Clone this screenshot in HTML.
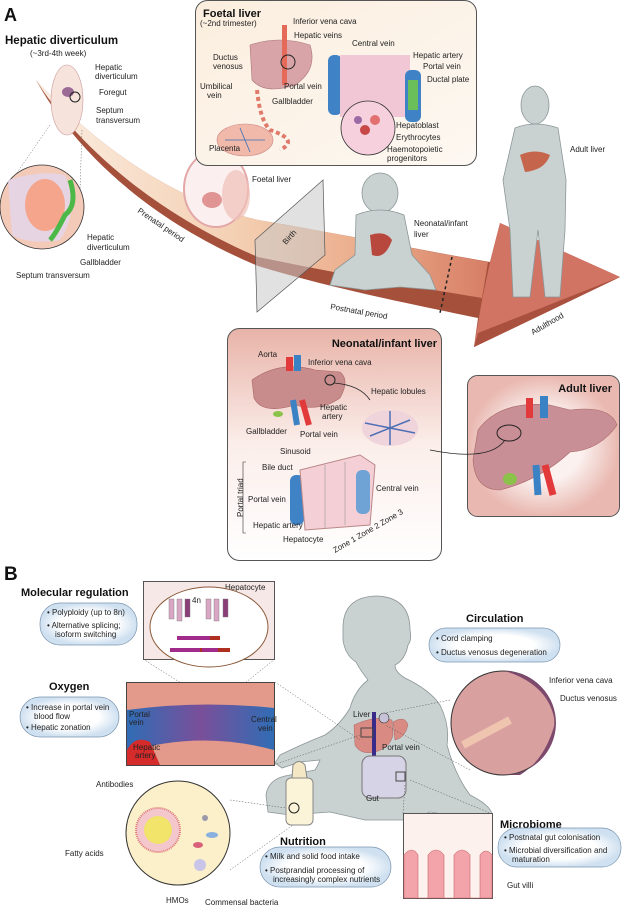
<!DOCTYPE html>
<html><head><meta charset="utf-8"><style>
body{margin:0;background:#fff}
svg{display:block;font-family:"Liberation Sans",sans-serif}
.t{font-size:8px;fill:#222}
.b{font-weight:bold;fill:#111}
</style></head><body>
<svg width="622" height="908" viewBox="0 0 622 908" xmlns="http://www.w3.org/2000/svg">
<defs>
<linearGradient id="arr" x1="0" y1="0" x2="1" y2="0">
<stop offset="0" stop-color="#fbeee2"/><stop offset="0.45" stop-color="#f4cfb2"/><stop offset="0.75" stop-color="#eaa987"/><stop offset="1" stop-color="#d77e66"/></linearGradient>
<linearGradient id="nb" x1="0" y1="0" x2="0" y2="1"><stop offset="0" stop-color="#e8b3a8"/><stop offset="0.5" stop-color="#fbeeea"/><stop offset="1" stop-color="#fff"/></linearGradient>
<radialGradient id="ab"><stop offset="0.5" stop-color="#fbf1ef"/><stop offset="1" stop-color="#e9b8b0"/></radialGradient>
<linearGradient id="fb" x1="0" y1="0" x2="1" y2="1"><stop offset="0" stop-color="#fbeede"/><stop offset="1" stop-color="#fdf8f2"/></linearGradient>
<radialGradient id="pill"><stop offset="0.6" stop-color="#fff"/><stop offset="1" stop-color="#cfe0f0"/></radialGradient>
<linearGradient id="ves" x1="0" y1="0" x2="1" y2="0"><stop offset="0" stop-color="#2f6db5"/><stop offset="0.5" stop-color="#7a4f9a"/><stop offset="1" stop-color="#2f6db5"/></linearGradient>
</defs>

<!-- big arrow -->
<path d="M36,80 C80,160 160,225 258,266 C330,288 420,306 478,318 L474,347 L620,277 L500,223 L490,262 C420,250 330,232 258,220 C170,200 90,140 36,80 Z" fill="#a5503b"/>
<path d="M36,80 C80,150 160,215 258,257 C330,272 420,288 482,298 L488,262 C420,250 330,232 258,220 C170,200 90,140 36,80 Z" fill="url(#arr)"/>
<path d="M482,300 L474,347 L620,277 L500,223 L490,262 Z" fill="#d27464"/>
<path d="M474,347 L620,277 L612,280 L478,333 Z" fill="#a9503f"/>
<path d="M452,257 L440,313" stroke="#222" stroke-width="1.5" stroke-dasharray="3,3"/>
<text class="t" font-size="11" transform="translate(137,212) rotate(34)">Prenatal period</text>
<text class="t" font-size="11" transform="translate(330,309) rotate(10)">Postnatal period</text>
<text class="t" font-size="10" transform="translate(533,335) rotate(-30)">Adulthood</text>
<!-- birth plane -->
<path d="M255,240 L323,180 L325,255 L257,312 Z" fill="#c8c8c8" fill-opacity="0.55" stroke="#555" stroke-width="0.7"/>
<text class="t" font-size="9" transform="translate(286,245) rotate(-48)">Birth</text>

<!-- A label -->
<text x="4" y="21" font-size="18" class="b">A</text>
<text x="5" y="44" font-size="11.5" class="b">Hepatic diverticulum</text>
<text x="30" y="56" class="t">(~3rd-4th week)</text>
<!-- embryo -->
<ellipse cx="67" cy="100" rx="16" ry="35" fill="#f6e4dc" stroke="#c99" stroke-width="0.6"/>
<ellipse cx="68" cy="92" rx="6" ry="5" fill="#9b6a95"/>
<circle cx="75" cy="97" r="5" fill="none" stroke="#222"/>
<text class="t" x="95" y="70">Hepatic</text><text class="t" x="95" y="79">diverticulum</text>
<text class="t" x="99" y="95">Foregut</text>
<text class="t" x="96" y="113">Septum</text><text class="t" x="96" y="123">transversum</text>
<path d="M50,125 L5,190 M82,130 L80,190" stroke="#666" stroke-width="0.5" stroke-dasharray="1.5,1.5"/>
<circle cx="42" cy="207" r="42" fill="#f3c9b8" stroke="#333" stroke-width="0.8"/>
<path d="M8,180 Q40,170 65,175 Q80,210 60,240 Q30,245 12,235 Z" fill="#e6d5e8" opacity="0.9"/>
<ellipse cx="45" cy="205" rx="20" ry="26" fill="#f4a58c"/>
<path d="M70,180 Q78,205 65,215 Q55,235 50,240" fill="none" stroke="#4cb848" stroke-width="5"/>
<text class="t" x="87" y="240">Hepatic</text><text class="t" x="87" y="250">diverticulum</text>
<text class="t" x="80" y="265">Gallbladder</text>
<text class="t" x="16" y="278">Septum transversum</text>

<!-- foetus -->
<ellipse cx="216" cy="189" rx="32" ry="38" fill="#fbefef" stroke="#e3a7a7" stroke-width="2"/>
<ellipse cx="236" cy="195" rx="14" ry="25" fill="#f0c0b8" opacity="0.7"/>
<ellipse cx="212" cy="200" rx="10" ry="8" fill="#d56d6d" opacity="0.7"/>
<text class="t" x="252" y="182">Foetal liver</text>

<!-- baby A -->
<g fill="#c9d1d1" stroke="#8c9696" stroke-width="0.8">
<ellipse cx="380" cy="193" rx="18" ry="20"/>
<path d="M356,215 Q380,205 404,215 L412,255 L430,275 L436,290 L400,287 L365,290 L330,285 L335,270 L355,255 Z"/>
</g>
<path d="M370,235 Q385,230 392,240 Q385,260 372,255 Z" fill="#b8473d"/>
<text class="t" x="414" y="226">Neonatal/infant</text><text class="t" x="414" y="237">liver</text>

<!-- adult -->
<g fill="#c9d1d1" stroke="#8c9696" stroke-width="0.8">
<ellipse cx="535" cy="105" rx="14" ry="19"/>
<path d="M515,128 Q535,120 558,128 L566,180 L565,230 L560,297 L545,297 L538,230 L530,297 L513,297 L510,230 L503,180 Z"/>
</g>
<path d="M520,155 Q535,148 550,155 Q545,170 525,172 Z" fill="#c4654c"/>
<text class="t" x="570" y="152">Adult liver</text>

<!-- foetal box -->
<rect x="195.5" y="0.5" width="281" height="165" rx="12" fill="url(#fb)" stroke="#555"/>
<text x="203" y="17" font-size="11" class="b">Foetal liver</text>
<text class="t" x="200" y="26">(~2nd trimester)</text>
<path d="M250,45 Q280,35 310,45 Q318,70 295,85 Q265,95 252,80 Z" fill="#d9a4a8" stroke="#a77" stroke-width="0.6"/>
<rect x="282" y="25" width="5" height="60" fill="#e56a5a"/>
<circle cx="288" cy="62" r="7" fill="none" stroke="#222"/>
<path d="M257,90 Q260,120 270,130 Q300,140 280,150" fill="none" stroke="#e07a6a" stroke-width="4" stroke-dasharray="4,3"/>
<ellipse cx="245" cy="140" rx="28" ry="16" fill="#f0b9a9" stroke="#c88" stroke-width="0.6"/>
<path d="M225,140 L265,140 M240,128 L250,152" stroke="#3a6fb8" stroke-width="0.8"/>
<rect x="328" y="55" width="14" height="60" rx="6" fill="#3f83c6"/>
<rect x="340" y="55" width="70" height="62" fill="#f2c7d5"/>
<rect x="405" y="70" width="16" height="52" rx="6" fill="#3f83c6"/>
<rect x="408" y="80" width="10" height="30" fill="#6bbf5a"/>
<circle cx="368" cy="128" r="27" fill="#f6d0dc" stroke="#333" stroke-width="0.8"/>
<circle cx="365" cy="130" r="5" fill="#c84848"/><circle cx="375" cy="120" r="5" fill="#e27070"/><circle cx="358" cy="120" r="4" fill="#9b6aa5"/>
<text class="t" x="293" y="24">Inferior vena cava</text>
<text class="t" x="294" y="38">Hepatic veins</text>
<text class="t" x="352" y="46">Central vein</text>
<text class="t" x="213" y="60">Ductus</text><text class="t" x="213" y="69">venosus</text>
<text class="t" x="200" y="89">Umbilical</text><text class="t" x="207" y="98">vein</text>
<text class="t" x="284" y="89">Portal vein</text>
<text class="t" x="272" y="104">Gallbladder</text>
<text class="t" x="209" y="151">Placenta</text>
<text class="t" x="413" y="58">Hepatic artery</text>
<text class="t" x="423" y="69">Portal vein</text>
<text class="t" x="427" y="82">Ductal plate</text>
<text class="t" x="396" y="128">Hepatoblast</text>
<text class="t" x="396" y="140">Erythrocytes</text>
<text class="t" x="387" y="152">Haemotopoietic</text><text class="t" x="387" y="161">progenitors</text>

<!-- neonatal box -->
<rect x="227.5" y="328.5" width="214" height="232" rx="12" fill="url(#nb)" stroke="#555"/>
<text x="437" y="347" font-size="11" class="b" text-anchor="end">Neonatal/infant liver</text>
<path d="M252,380 Q280,360 315,370 L340,372 Q350,380 340,398 Q320,412 295,405 Q262,415 254,398 Z" fill="#c98c8c" stroke="#a66" stroke-width="0.6"/>
<rect x="286" y="357" width="7" height="14" fill="#e23a3a"/><rect x="294" y="355" width="7" height="16" fill="#3b82c4"/>
<path d="M293,400 L297,425" stroke="#3b82c4" stroke-width="6"/><path d="M302,400 L309,425" stroke="#e23a3a" stroke-width="6"/>
<ellipse cx="278" cy="414" rx="5" ry="3" fill="#8bc34a"/>
<circle cx="330" cy="380" r="5" fill="none" stroke="#222"/>
<path d="M334,383 Q360,385 370,400" fill="none" stroke="#222" stroke-width="0.8"/>
<g transform="translate(390,428)"><ellipse rx="28" ry="18" fill="#f0d4dc"/><path d="M-25,-5 L25,5 M-20,8 L20,-8 M0,-17 L0,17" stroke="#4f6fb5" stroke-width="1.5"/></g>
<rect x="290" y="475" width="14" height="50" rx="6" fill="#3f83c6"/>
<path d="M300,470 L360,455 L375,465 L370,525 L305,530 Z" fill="#f4cfd6" stroke="#b88"/>
<rect x="356" y="470" width="14" height="44" rx="6" fill="#6fa3d6"/>
<path d="M325,465 L325,528 M345,462 L345,525" stroke="#888" stroke-width="0.5"/>
<text class="t" x="258" y="357">Aorta</text>
<text class="t" x="308" y="365">Inferior vena cava</text>
<text class="t" x="371" y="394">Hepatic lobules</text>
<text class="t" x="320" y="410">Hepatic</text><text class="t" x="322" y="419">artery</text>
<text class="t" x="246" y="434">Gallbladder</text>
<text class="t" x="300" y="437">Portal vein</text>
<text class="t" x="280" y="454">Sinusoid</text>
<text class="t" x="262" y="470">Bile duct</text>
<text class="t" x="248" y="502">Portal vein</text>
<text class="t" x="376" y="491">Central vein</text>
<text class="t" x="253" y="528">Hepatic artery</text>
<text class="t" x="283" y="542">Hepatocyte</text>
<text class="t" transform="translate(243,517) rotate(-90)">Portal triad</text>
<path d="M246,462 L243,462 L243,533 L246,533" fill="none" stroke="#333" stroke-width="0.6"/>
<text class="t" font-size="7" transform="translate(335,553) rotate(-30)">Zone 1 Zone 2 Zone 3</text>

<!-- adult box -->
<rect x="467.5" y="375.5" width="152" height="141" rx="10" fill="url(#ab)" stroke="#555"/>
<text x="612" y="392" font-size="11" class="b" text-anchor="end">Adult liver</text>
<path d="M478,430 Q500,400 550,405 L570,410 Q610,405 617,425 Q600,450 570,452 Q540,480 500,490 Q475,490 473,460 Z" fill="#c98f96" stroke="#a66" stroke-width="0.6"/>
<rect x="526" y="398" width="7" height="20" fill="#e23a3a"/><rect x="540" y="396" width="8" height="22" fill="#3b82c4"/>
<path d="M536,465 L538,495" stroke="#3b82c4" stroke-width="7"/><path d="M545,465 L553,495" stroke="#e23a3a" stroke-width="7"/>
<ellipse cx="510" cy="479" rx="7" ry="6" fill="#8bc34a"/>
<ellipse cx="509" cy="433" rx="12" ry="8" fill="none" stroke="#222"/>
<path d="M505,440 Q490,462 430,450" fill="none" stroke="#222" stroke-width="0.8"/>

<!-- B -->
<text x="4" y="580" font-size="19" class="b">B</text>
<!-- baby B -->
<g fill="#c9d1d1" stroke="#8c9696" stroke-width="0.8">
<path d="M343,628 Q343,597 376,596 Q410,597 410,630 Q412,640 408,645 Q405,660 395,665 Q395,672 405,678 Q430,690 440,705 Q450,725 447,745 Q455,775 470,795 Q490,805 492,814 L480,820 L430,812 L410,820 L365,820 L330,812 L290,815 L268,812 L266,795 Q268,780 285,776 L315,770 Q318,765 320,760 L300,762 L282,768 L275,763 L280,755 Q300,745 325,735 Q340,725 350,708 Q355,690 368,680 Q360,670 356,662 Q345,655 343,640 Z"/>
</g>
<path d="M354,725 Q375,715 392,720 L393,735 Q390,748 375,752 Q360,755 355,745 Z" fill="#d98a82" stroke="#a66" stroke-width="0.5"/>
<path d="M393,722 Q405,715 408,725 Q405,738 395,740 Z" fill="#d98a82" stroke="#a66" stroke-width="0.5"/>
<rect x="372" y="712" width="4" height="46" fill="#3a2b8a"/>
<circle cx="384" cy="718" r="5" fill="#c8c2d8" stroke="#333" stroke-width="0.6"/>
<rect x="361" y="728" width="12" height="9" fill="none" stroke="#444"/>
<rect x="362" y="756" width="44" height="42" rx="8" fill="#d7d3e6" stroke="#777"/>
<rect x="396" y="772" width="9" height="9" fill="none" stroke="#444"/>
<text class="t" x="353" y="717">Liver</text>
<text class="t" x="382" y="750">Portal vein</text>
<text class="t" x="366" y="801">Gut</text>
<!-- dotted connectors -->
<g stroke="#555" stroke-width="0.5" stroke-dasharray="1.5,1.5" fill="none">
<path d="M143,659 L200,695 M275,659 L230,695 M275,682 L360,740 M274,765 L360,735 M450,700 L385,713 M470,770 L385,725 M230,800 L300,810 M230,870 L300,820 M405,785 L403,813 M410,780 L490,813"/>
</g>
<!-- mol regulation -->
<text x="21" y="596" font-size="11" class="b">Molecular regulation</text>
<rect x="40" y="603" width="97" height="42" rx="20" fill="url(#pill)" stroke="#7a95b0" stroke-width="0.7"/>
<text class="t" x="47" y="615">• Polyploidy (up to 8n)</text>
<text class="t" x="47" y="628">• Alternative splicing;</text>
<text class="t" x="55" y="637">isoform switching</text>
<rect x="143.5" y="581.5" width="131" height="78" fill="#f6e8e6" stroke="#555"/>
<text class="t" x="225" y="590">Hepatocyte</text>
<ellipse cx="209" cy="627" rx="59" ry="40" fill="#fff" stroke="#8a5a3a"/>
<text class="t" x="192" y="603">4n</text>
<g fill="#d9a6c4" stroke="#777" stroke-width="0.4"><rect x="169" y="599" width="5" height="20"/><rect x="177" y="599" width="5" height="22"/><rect x="185" y="599" width="5" height="18" fill="#8a3f78"/><rect x="206" y="599" width="5" height="20"/><rect x="214" y="599" width="5" height="22"/><rect x="223" y="599" width="5" height="18" fill="#8a3f78"/></g>
<rect x="177" y="636" width="43" height="4" fill="#a02b8a"/><rect x="210" y="636" width="10" height="4" fill="#b03020"/>
<rect x="170" y="648" width="43" height="4" fill="#a02b8a"/><rect x="200" y="648" width="14" height="4" fill="#b03020"/>
<rect x="202" y="648" width="28" height="4" fill="#a02b8a"/><rect x="218" y="648" width="12" height="4" fill="#b03020"/>
<!-- circulation -->
<text x="466" y="622" font-size="11" class="b">Circulation</text>
<rect x="429" y="628" width="131" height="34" rx="17" fill="url(#pill)" stroke="#7a95b0" stroke-width="0.7"/>
<text class="t" x="436" y="641">• Cord clamping</text>
<text class="t" x="436" y="655">• Ductus venosus degeneration</text>
<!-- oxygen -->
<text x="49" y="690" font-size="11" class="b">Oxygen</text>
<rect x="20" y="697" width="99" height="40" rx="20" fill="url(#pill)" stroke="#7a95b0" stroke-width="0.7"/>
<text class="t" x="26" y="710">• Increase in portal vein</text>
<text class="t" x="34" y="719">blood flow</text>
<text class="t" x="26" y="730">• Hepatic zonation</text>
<rect x="126.5" y="682.5" width="148" height="83" fill="url(#ves)" stroke="#444"/>
<path d="M127,683 L274,683 L274,708 Q200,700 127,710 Z" fill="#e39a8a"/>
<path d="M127,752 Q200,730 274,750 L274,765 L127,765 Z" fill="#e39a8a"/>
<path d="M127,750 Q135,735 150,742 L160,765 L127,765 Z" fill="#d62b2b"/>
<text class="t" x="129" y="717" fill="#223">Portal</text><text class="t" x="129" y="725">vein</text>
<text class="t" x="251" y="722">Central</text><text class="t" x="258" y="731">vein</text>
<text class="t" x="133" y="750" fill="#fff">Hepatic</text><text class="t" x="135" y="758" fill="#fff">artery</text>
<!-- right circle -->
<circle cx="503" cy="723" r="52" fill="#d9a0a0" stroke="#333"/>
<path d="M505,671 A52,52 0 0 1 503,775 L520,775 Q545,760 555,723 Q550,685 505,671 Z" fill="#7d4a6e"/>
<path d="M463,745 L510,720" stroke="#f0c5b0" stroke-width="8"/>
<text class="t" x="549" y="683">Inferior vena cava</text>
<text class="t" x="560" y="701">Ductus venosus</text>
<!-- bottle -->
<rect x="286" y="778" width="27" height="47" rx="5" fill="#fbf4d8" stroke="#888"/>
<path d="M292,778 L293,765 Q299,758 305,765 L307,778 Z" fill="#f3e7c4" stroke="#888"/>
<circle cx="294" cy="808" r="5" fill="none" stroke="#222"/>
<!-- nutrition circle -->
<circle cx="178" cy="833" r="52" fill="#fbf0c9" stroke="#333"/>
<circle cx="158" cy="830" r="22" fill="#f4c7cc" stroke="#d77" stroke-width="2" stroke-dasharray="1,1"/>
<circle cx="158" cy="830" r="14" fill="#f2e36a"/>
<circle cx="205" cy="818" r="3" fill="#99a"/><ellipse cx="212" cy="835" rx="6" ry="3" fill="#8ab0e0"/><ellipse cx="198" cy="845" rx="5" ry="3" fill="#d9607a"/><circle cx="200" cy="865" r="6" fill="#c8c5e8"/>
<text class="t" x="96" y="787">Antibodies</text>
<text class="t" x="65" y="856">Fatty acids</text>
<text class="t" x="166" y="903">HMOs</text>
<text class="t" x="205" y="905">Commensal bacteria</text>
<!-- nutrition -->
<text x="280" y="845" font-size="11" class="b">Nutrition</text>
<rect x="260" y="847" width="131" height="40" rx="20" fill="url(#pill)" stroke="#7a95b0" stroke-width="0.7"/>
<text class="t" x="265" y="859">• Milk and solid food intake</text>
<text class="t" x="265" y="873">• Postprandial processing of</text>
<text class="t" x="273" y="882">increasingly complex nutrients</text>
<!-- microbiome -->
<text x="500" y="828" font-size="11" class="b">Microbiome</text>
<rect x="498" y="828" width="123" height="39" rx="19" fill="url(#pill)" stroke="#7a95b0" stroke-width="0.7"/>
<text class="t" x="504" y="840">• Postnatal gut colonisation</text>
<text class="t" x="504" y="853">• Microbial diversification and</text>
<text class="t" x="512" y="862">maturation</text>
<rect x="403.5" y="813.5" width="89" height="85" fill="#fdf1ee" stroke="#555"/>
<path d="M404,855 Q412,845 418,855 L418,898 L428,898 L428,855 Q436,845 444,855 L444,898 L454,898 L454,855 Q462,845 470,855 L470,898 L480,898 L480,855 Q486,847 492,855 L492,898 L404,898 Z" fill="#f2a4aa" stroke="#c66" stroke-width="0.6"/>
<text class="t" x="507" y="888">Gut villi</text>
</svg>
</body></html>
